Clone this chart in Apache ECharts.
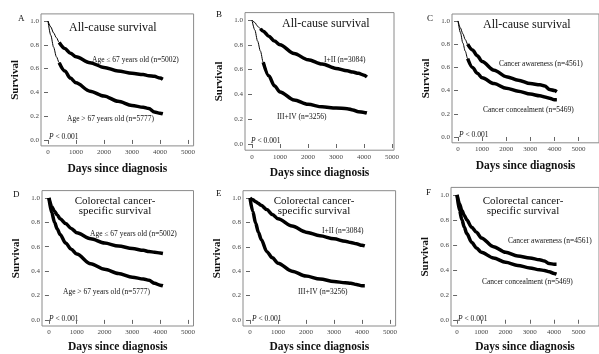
<!DOCTYPE html>
<html>
<head>
<meta charset="utf-8">
<script src="https://cdn.jsdelivr.net/npm/echarts@6/dist/echarts.min.js"></script>
<style>
  html, body { margin: 0; padding: 0; background: #fff; }
  #chart { width: 599px; height: 354px; }
</style>
</head>
<body>
<div id="chart"></div>
<script>
const days = [0, 100, 200, 300, 400, 600, 800, 1000, 1500, 2000, 2500, 3000, 3400, 3600, 3800, 4000, 4100];

// A - all-cause survival by age
const aYoung = [1.0, 0.95, 0.90, 0.86, 0.82, 0.77, 0.73, 0.70, 0.65, 0.61, 0.58, 0.56, 0.55, 0.54, 0.535, 0.52, 0.51];
const aOld = [1.0, 0.88, 0.78, 0.70, 0.65, 0.58, 0.52, 0.48, 0.41, 0.37, 0.325, 0.29, 0.275, 0.265, 0.235, 0.225, 0.22];
// B - all-cause survival by stage
const bEarly = [1.0, 0.98, 0.95, 0.93, 0.91, 0.87, 0.83, 0.80, 0.73, 0.68, 0.645, 0.61, 0.59, 0.58, 0.57, 0.555, 0.54];
const bLate = [1.0, 0.92, 0.83, 0.75, 0.66, 0.55, 0.47, 0.42, 0.355, 0.32, 0.30, 0.29, 0.285, 0.275, 0.26, 0.255, 0.25];
// C - all-cause survival by awareness
const cAware = [1.0, 0.94, 0.89, 0.84, 0.80, 0.75, 0.70, 0.65, 0.575, 0.52, 0.49, 0.46, 0.45, 0.44, 0.41, 0.40, 0.39];
const cConceal = [1.0, 0.90, 0.81, 0.74, 0.675, 0.60, 0.55, 0.51, 0.46, 0.42, 0.395, 0.37, 0.355, 0.345, 0.335, 0.32, 0.32];
// D - cancer-specific survival by age
const dYoung = [1.0, 0.93, 0.89, 0.86, 0.83, 0.79, 0.75, 0.715, 0.665, 0.63, 0.605, 0.585, 0.57, 0.56, 0.555, 0.548, 0.545];
const dOld = [1.0, 0.88, 0.80, 0.745, 0.70, 0.63, 0.58, 0.54, 0.46, 0.415, 0.38, 0.35, 0.335, 0.325, 0.30, 0.285, 0.28];
// E - cancer-specific survival by stage
const eEarly = [1.0, 0.985, 0.97, 0.955, 0.94, 0.905, 0.865, 0.83, 0.77, 0.72, 0.69, 0.665, 0.645, 0.635, 0.625, 0.612, 0.607];
const eLate = [1.0, 0.89, 0.795, 0.72, 0.66, 0.56, 0.51, 0.465, 0.40, 0.36, 0.335, 0.315, 0.305, 0.30, 0.29, 0.28, 0.28];
// F - cancer-specific survival by awareness
const fAware = [1.0, 0.93, 0.875, 0.835, 0.80, 0.74, 0.70, 0.655, 0.585, 0.54, 0.51, 0.495, 0.48, 0.47, 0.45, 0.445, 0.445];
const fConceal = [1.0, 0.875, 0.80, 0.74, 0.69, 0.62, 0.575, 0.54, 0.495, 0.46, 0.435, 0.415, 0.40, 0.395, 0.385, 0.37, 0.365];

const xTicks = [0, 1000, 2000, 3000, 4000, 5000];
const yTicks = [0, 0.2, 0.4, 0.6, 0.8, 1.0];

const serif = "'Liberation Serif', 'Times New Roman', serif";

// layout of the six plot boxes; "from" = day where the censor marks make the line thick
const panels = [
  { letter: "A", lx: 18, ly: 19, left: 41, top: 13.9, width: 152.6, height: 132, xMax: 5200,
    curves: [{ v: aYoung, from: 400 }, { v: aOld, from: 400 }] },
  { letter: "B", lx: 216, ly: 15, left: 245, top: 12.6, width: 149, height: 137.6, xMax: 5070,
    curves: [{ v: bEarly, from: 300 }, { v: bLate, from: 400 }] },
  { letter: "C", lx: 427, ly: 19, left: 452, top: 14, width: 167.8, height: 128.8, xMax: 5850,
    curves: [{ v: cAware, from: 400 }, { v: cConceal, from: 400 }] },
  { letter: "D", lx: 13, ly: 195, left: 42, top: 190.6, width: 151.5, height: 136.5, xMax: 5200,
    curves: [{ v: dYoung, from: 0 }, { v: dOld, from: 0 }] },
  { letter: "E", lx: 216, ly: 194, left: 243, top: 190.7, width: 152.6, height: 135.4, xMax: 5200,
    curves: [{ v: eEarly, from: 0 }, { v: eLate, from: 0 }] },
  { letter: "F", lx: 426, ly: 193, left: 451, top: 187.4, width: 170.8, height: 139.9, xMax: 5850,
    curves: [{ v: fAware, from: 0 }, { v: fConceal, from: 0 }] },
];

const grid = [], xAxis = [], yAxis = [], series = [];
panels.forEach((p, i) => {
  grid.push({
    left: p.left, top: p.top, width: p.width, height: p.height,
    show: true, borderColor: "#8a8a8a", borderWidth: 1, backgroundColor: "transparent",
  });
  xAxis.push({
    gridIndex: i, type: "value", min: -250, max: p.xMax,
    name: "Days since diagnosis", nameLocation: "middle", nameGap: i < 3 ? 17 : 15,
    nameTextStyle: { fontFamily: serif, fontWeight: "bold", fontSize: 11.5, color: "#111" },
    axisLine: { show: false },
    axisTick: { show: true, inside: false, length: 4, customValues: xTicks, lineStyle: { color: "#666" } },
    axisLabel: { customValues: xTicks, fontFamily: serif, fontSize: 7, color: "#444", margin: 3,
      formatter: (v) => String(v) },
    splitLine: { show: false },
  });
  yAxis.push({
    gridIndex: i, type: "value", min: -0.05, max: 1.06,
    name: "Survival", nameLocation: "middle", nameRotate: 90, nameGap: 20,
    nameTextStyle: { fontFamily: serif, fontWeight: "bold", fontSize: 11, color: "#111" },
    axisLine: { show: false },
    axisTick: { show: true, inside: false, length: 4, customValues: yTicks, lineStyle: { color: "#666" } },
    axisLabel: { customValues: yTicks, fontFamily: serif, fontSize: 7, color: "#444", margin: 2,
      formatter: (v) => v.toFixed(1) },
    splitLine: { show: false },
  });
  p.curves.forEach((c) => {
    const pts = days.map((d, k) => [d, c.v[k]]);
    if (c.from > 0) {
      series.push({
        type: "line", xAxisIndex: i, yAxisIndex: i, data: pts, smooth: 0.3, smoothMonotone: "x",
        showSymbol: false, silent: true, lineStyle: { color: "#000", width: 1 },
      });
    }
    series.push({
      type: "line", xAxisIndex: i, yAxisIndex: i,
      data: pts.filter((pt) => pt[0] >= c.from),
      smooth: 0.3, smoothMonotone: "x",
      showSymbol: false, silent: true, lineStyle: { color: "#000", width: 3.5 },
    });
  });
});

function txt(text, x, y, size, opts) {
  return {
    type: "text", x: x, y: y, silent: true,
    style: Object.assign({
      text: text, font: size + "px " + serif, fill: "#111",
      textVerticalAlign: "middle", textAlign: "left",
    }, opts || {}),
  };
}
function pText(x, y) {
  return {
    type: "text", x: x, y: y, silent: true,
    style: {
      text: "{i|P} < 0.001", fill: "#111", textVerticalAlign: "middle",
      font: "7.5px " + serif,
      rich: { i: { fontStyle: "italic", fontFamily: serif, fontSize: 7.5 } },
    },
  };
}

const graphics = [];
panels.forEach((p) => graphics.push(txt(p.letter, p.lx, p.ly, 9)));
graphics.push(
  txt("All-cause survival", 69, 28, 12),
  txt("Age \u2264 67 years old (n=5002)", 92, 60, 7.5),
  txt("Age > 67 years old (n=5777)", 67, 119, 7.5),
  pText(49, 137),
  txt("All-cause survival", 282, 24, 12),
  txt("I+II (n=3084)", 324, 60, 7.5),
  txt("III+IV (n=3256)", 277, 117, 7.5),
  pText(251, 141),
  txt("All-cause survival", 483, 25, 12),
  txt("Cancer awareness (n=4561)", 499, 64, 7.5),
  txt("Cancer concealment (n=5469)", 483, 110, 7.5),
  pText(459, 135),
  txt("Colorectal cancer-", 115, 201, 11, { textAlign: "center" }),
  txt("specific survival", 115, 211, 11, { textAlign: "center" }),
  txt("Age \u2264 67 years old (n=5002)", 90, 234, 7.5),
  txt("Age > 67 years old (n=5777)", 63, 292, 7.5),
  pText(49, 319),
  txt("Colorectal cancer-", 314, 201, 11, { textAlign: "center" }),
  txt("specific survival", 314, 211, 11, { textAlign: "center" }),
  txt("I+II (n=3084)", 322, 231.5, 7.5),
  txt("III+IV (n=3256)", 298, 292, 7.5),
  pText(252, 319),
  txt("Colorectal cancer-", 523, 201, 11, { textAlign: "center" }),
  txt("specific survival", 523, 211, 11, { textAlign: "center" }),
  txt("Cancer awareness (n=4561)", 508, 241, 7.5),
  txt("Cancer concealment (n=5469)", 482, 282, 7.5),
  pText(458, 319)
);

const chart = echarts.init(document.getElementById("chart"), null, { renderer: "canvas" });
chart.setOption({
  animation: false,
  backgroundColor: "#fff",
  grid: grid,
  xAxis: xAxis,
  yAxis: yAxis,
  series: series,
  graphic: graphics,
});
</script>
</body>
</html>
